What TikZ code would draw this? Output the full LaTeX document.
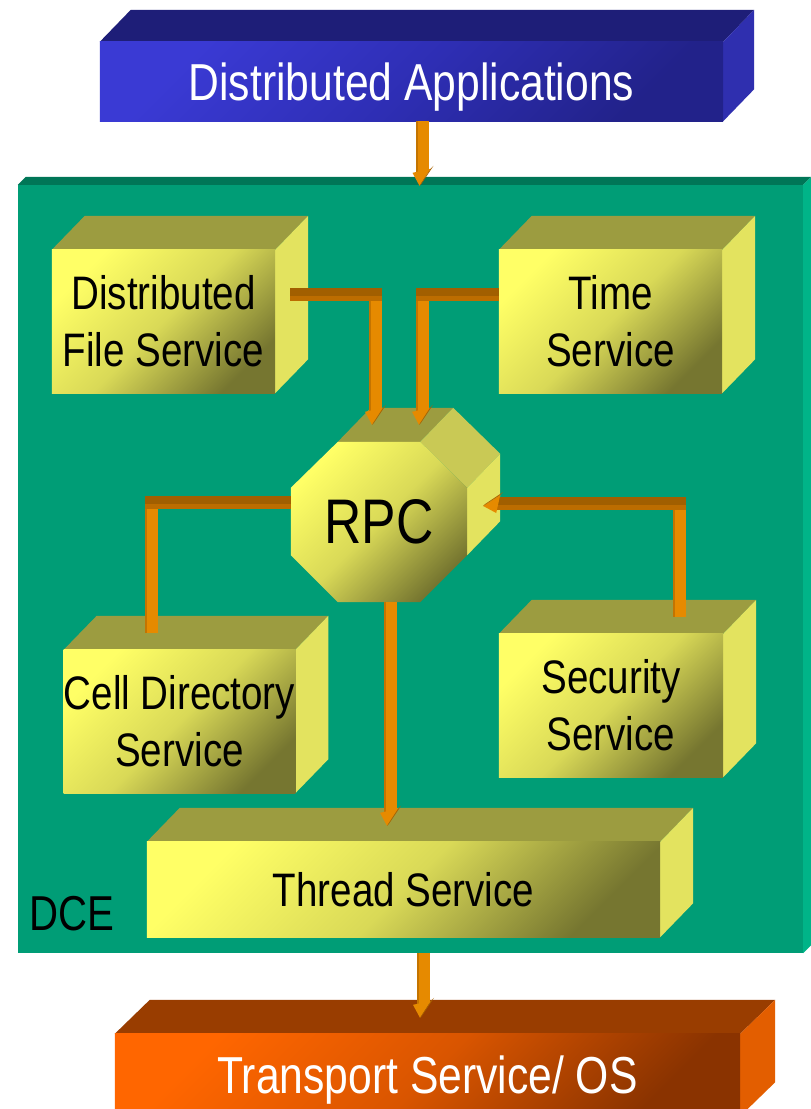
\documentclass[tikz,border=0pt]{standalone}
\usepackage{fontspec}
\setmainfont{Liberation Sans}[FakeStretch=0.82]
\usetikzlibrary{calc}
\pgfdeclarelayer{back}
\pgfdeclarelayer{faces}
\pgfsetlayers{back,faces,main}
\definecolor{blueA}{HTML}{3A3AD4}
\definecolor{blueM}{HTML}{2E2EB4}
\definecolor{blueB}{HTML}{22228A}
\definecolor{blueTop}{HTML}{1E1E78}
\definecolor{blueSide}{HTML}{2F2FAF}
\definecolor{greenF}{HTML}{009D76}
\definecolor{greenTop}{HTML}{007657}
\definecolor{greenSide}{HTML}{00B488}
\definecolor{yelA}{HTML}{FFFF66}
\definecolor{yelM}{HTML}{D9D957}
\definecolor{yelB}{HTML}{767630}
\definecolor{yelTop}{HTML}{9C9C40}
\definecolor{yelSide}{HTML}{E3E35F}
\definecolor{yelDiag}{HTML}{C9C955}
\definecolor{orA}{HTML}{FF6600}
\definecolor{orM}{HTML}{D95500}
\definecolor{orB}{HTML}{8A3300}
\definecolor{orTop}{HTML}{993D00}
\definecolor{orSide}{HTML}{E35E00}
\definecolor{pipeV}{HTML}{E68A00}
\definecolor{pipeVd}{HTML}{C47400}
\definecolor{pipeH}{HTML}{A15F00}
\definecolor{pipeHf}{HTML}{BC6D00}
\definecolor{headD}{HTML}{A86200}
\newcommand\cubefaces[6]{%
  \fill[#4] (#1.north west) -- ++(#2,#3) -- ($(#1.north east)+(#2,#3)$) -- (#1.north east) -- cycle;
  \fill[#5] (#1.north east) -- ++(#2,#3) -- ($(#1.south east)+(#2,#3)$) -- (#1.south east) -- cycle;
  \shade[#6] (#1.north west) rectangle (#1.south east);
}
\begin{document}
\begin{tikzpicture}[x=1pt,y=-1pt,
  svcbox/.style={rectangle, inner sep=0pt, align=center, font=\fontsize{47pt}{57pt}\selectfont},
  yshade/.style={top color=yelA, bottom color=yelB, middle color=yelM, shading angle=45},
  bshade/.style={top color=blueA, bottom color=blueB, middle color=blueM, shading angle=45},
  oshade/.style={top color=orA, bottom color=orB, middle color=orM, shading angle=45},
  vpipe/.style={draw=pipeV, line width=13pt, postaction={draw=pipeVd, line width=2pt, transform canvas={xshift=-5.5pt}}},
  hpipe/.style={draw=pipeH, line width=13pt, postaction={draw=pipeHf, line width=5pt, transform canvas={yshift=-4pt}}},
  headdown/.pic={\fill[pipeV] (-7,-13) -- (0,0) -- (11,-17) -- cycle;
                 \fill[headD] (11,-17) -- (14,-20) -- (2,-2) -- (0,0) -- cycle;},
  headleft/.pic={\fill[pipeV] (13,7) -- (0,0) -- (17,-11) -- cycle;
                 \fill[headD] (17,-11) -- (20,-14) -- (2,-2) -- (0,0) -- cycle;}
]
\useasboundingbox (0,0) rectangle (811,1109);

% nodes (front faces)
\node[svcbox, minimum width=785pt, minimum height=768pt] (dce) at (410.5,569) {};
\node[anchor=base west, inner sep=0pt, font=\fontsize{49pt}{49pt}\selectfont] (dcelabel) at (29,930) {DCE};
\node[svcbox, minimum width=623pt, minimum height=79pt, text=white, text depth=0pt,
      font=\fontsize{52pt}{52pt}\selectfont] (apps) at (411.5,81.5) {Distributed Applications};
\node[svcbox, minimum width=223pt, minimum height=143pt] (dfs) at (163.5,321.5) {Distributed\\File Service};
\node[svcbox, minimum width=223pt, minimum height=143pt] (time) at (610.5,321.5) {Time\\Service};
\node[svcbox, minimum width=176pt, minimum height=160pt, font=\fontsize{63pt}{63pt}\selectfont] (rpc) at (379,522) {RPC};
\node[svcbox, minimum width=225pt, minimum height=143pt] (cds) at (179.5,721.5) {Cell Directory\\Service};
\node[svcbox, minimum width=224pt, minimum height=143pt] (sec) at (611,705.5) {Security\\Service};
\node[svcbox, minimum width=513pt, minimum height=95pt] (thread) at (403.5,889.5) {Thread Service};
\node[svcbox, minimum width=625pt, minimum height=82pt, text=white, text depth=0pt,
      font=\fontsize{52pt}{52pt}\selectfont] (os) at (427.5,1075) {Transport Service/ OS};

\begin{pgfonlayer}{back}
  \fill[white] (0,0) rectangle (811,1109);
  \fill[greenTop] (dce.north west) -- ++(8,-8) -- ($(dce.north east)+(8,-8)$) -- (dce.north east) -- cycle;
  \fill[greenSide] (dce.north east) -- ++(8,-8) -- ($(dce.south east)+(8,-8)$) -- (dce.south east) -- cycle;
  \fill[greenF] (dce.north west) rectangle (dce.south east);
\end{pgfonlayer}

\begin{pgfonlayer}{faces}
  \cubefaces{apps}{31}{-32}{blueTop}{blueSide}{bshade}
  \cubefaces{dfs}{33}{-34}{yelTop}{yelSide}{yshade}
  \cubefaces{time}{33}{-34}{yelTop}{yelSide}{yshade}
  \cubefaces{cds}{33}{-34}{yelTop}{yelSide}{yshade}
  \cubefaces{sec}{33}{-34}{yelTop}{yelSide}{yshade}
  \cubefaces{thread}{33}{-34}{yelTop}{yelSide}{yshade}
  \cubefaces{os}{35}{-34}{orTop}{orSide}{oshade}
  % RPC octagon
  \coordinate (oA) at ($(rpc.north west)+(47,0)$);
  \coordinate (oB) at ($(rpc.north east)+(-47,0)$);
  \coordinate (oC) at ($(rpc.north east)+(0,46)$);
  \coordinate (oD) at ($(rpc.south east)+(0,-47)$);
  \coordinate (oE) at ($(rpc.south east)+(-47,0)$);
  \coordinate (oF) at ($(rpc.south west)+(47,0)$);
  \coordinate (oG) at ($(rpc.south west)+(0,-47)$);
  \coordinate (oH) at ($(rpc.north west)+(0,46)$);
  \fill[yelTop] (oA) -- ++(33,-34) -- ($(oB)+(33,-34)$) -- (oB) -- cycle;
  \fill[yelDiag] (oB) -- ++(33,-34) -- ($(oC)+(33,-34)$) -- (oC) -- cycle;
  \fill[yelSide] (oC) -- ++(33,-34) -- ($(oD)+(33,-34)$) -- (oD) -- cycle;
  \shade[yshade] (oA) -- (oB) -- (oC) -- (oD) -- (oE) -- (oF) -- (oG) -- (oH) -- cycle;
\end{pgfonlayer}

% P1: apps -> dce
\coordinate (a1) at ($(apps.south)+(8,0)$);
\coordinate (t1) at ($(a1 |- dce.north)+(0,1)$);
\draw[vpipe] ($(apps.south)+(11,0)$) -- ($(t1)+(3,-14)$);
\pic at (t1) {headdown};

% P2: dfs -> rpc
\coordinate (t2) at ($(rpc.north)+(-7,-17)$);
\coordinate (s2) at ($(dfs.east)+(15,-27.5)$);
\coordinate (c2) at ($(t2)+(3,0)$);
\coordinate (b2) at (c2 |- s2);
\draw[vpipe] ($(b2)+(0,-6)$) -- ($(t2)+(3,-14)$);
\draw[hpipe] (s2) -- ($(b2)+(6.5,0)$);
\pic at (t2) {headdown};

% P3: time -> rpc
\coordinate (t3) at ($(rpc.north)+(40,-17)$);
\coordinate (s3) at ($(time.west)+(0,-27.5)$);
\coordinate (c3) at ($(t3)+(3,0)$);
\coordinate (b3) at (c3 |- s3);
\draw[vpipe] ($(b3)+(0,-6)$) -- ($(t3)+(3,-14)$);
\draw[hpipe] (s3) -- ($(b3)+(-6.5,0)$);
\pic at (t3) {headdown};

% P4: sec -> rpc
\coordinate (t4) at ($(rpc.east)+(16,-16)$);
\coordinate (s4) at ($(sec.north)+(68,-17)$);
\coordinate (c4) at ($(t4)+(0,-3)$);
\coordinate (b4) at (s4 |- c4);
\draw[vpipe] (s4) -- ($(b4)+(0,-6)$);
\draw[hpipe] ($(b4)+(6.5,0)$) -- ($(c4)+(14,0)$);
\pic at (t4) {headleft};

% P5: rpc -> cds
\coordinate (s5) at ($(rpc.west)+(0,-20)$);
\coordinate (e5) at ($(cds.north)+(-28.5,-17)$);
\coordinate (b5) at (e5 |- s5);
\draw[vpipe] ($(b5)+(0,-6)$) -- (e5);
\draw[hpipe] (s5) -- ($(b5)+(-6.5,0)$);

% P6: rpc -> thread
\coordinate (a6) at ($(rpc.south)+(8,0)$);
\coordinate (t6) at ($(a6 |- thread.north)+(0,-16)$);
\draw[vpipe] ($(rpc.south)+(11,0)$) -- ($(t6)+(3,-14)$);
\pic at (t6) {headdown};

% P7: dce -> os
\coordinate (a7) at ($(dce.south)+(9.5,0)$);
\coordinate (t7) at ($(a7 |- os.north)+(0,-16)$);
\draw[vpipe] ($(dce.south)+(12.5,0)$) -- ($(t7)+(3,-14)$);
\pic at (t7) {headdown};
\end{tikzpicture}
\end{document}
